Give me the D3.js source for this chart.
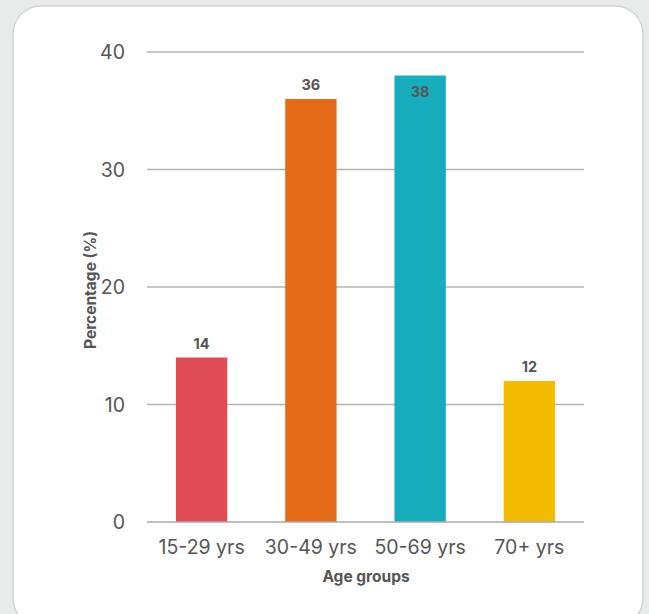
<!DOCTYPE html>
<html><head><meta charset="utf-8">
<script src="https://cdn.jsdelivr.net/npm/d3@7"></script>
<style>
html,body{margin:0;padding:0;background:#e9ebea;}
svg{display:block;font-family:Inter, "Liberation Sans", sans-serif;}
</style></head>
<body>
<svg id="chart" width="649" height="614"></svg>
<script>
const categories = ["15-29 yrs","30-49 yrs","50-69 yrs","70+ yrs"];
const values = [14, 36, 38, 12];
const colors = ["#e04c55","#e46c18","#18adbd","#f5bb00"];
const yTicks = [0,10,20,30,40];

(function(){
const svg = d3.select("#chart");
svg.append("rect").attr("x",13).attr("y",6).attr("width",630).attr("height",620)
  .attr("rx",28).attr("fill","#fff").attr("stroke","#d2d4d3").attr("stroke-width",1.5);

const pL=147, pR=584, pT=52, pB=522;
const x = d3.scaleBand().domain(categories).range([pL,pR]).paddingInner(0.53).paddingOuter(0.265);
const y = d3.scaleLinear().domain([0,40]).range([pB,pT]);

const g = svg.append("g");
g.selectAll(".grid").data(yTicks.filter(d=>d>0)).join("line")
  .attr("x1",pL).attr("x2",pR).attr("y1",d=>y(d)).attr("y2",d=>y(d))
  .attr("stroke","#b4b4b4").attr("stroke-width",1.3);

g.selectAll(".ytl").data(yTicks).join("text")
  .attr("x",125).attr("y",d=>y(d)).attr("dy","0.36em").attr("text-anchor","end")
  .attr("font-size",19.5).attr("fill","#555").text(d=>d);

g.selectAll(".bar").data(values).join("rect")
  .attr("x",(d,i)=>x(categories[i])).attr("width",x.bandwidth())
  .attr("y",d=>y(d)).attr("height",d=>pB-y(d))
  .attr("fill",(d,i)=>colors[i]);

g.append("line").attr("x1",pL).attr("x2",pR).attr("y1",pB).attr("y2",pB)
  .attr("stroke","#aaa").attr("stroke-width",1.5);

g.selectAll(".lbl").data(values).join("text")
  .attr("x",(d,i)=>x(categories[i])+x.bandwidth()/2)
  .attr("y",d=> y(d)-10 < pT+25 ? y(d)+21.5 : y(d)-9)
  .attr("text-anchor","middle").attr("font-size",14.5).attr("font-weight","bold")
  .attr("fill","#555").text(d=>d);

g.selectAll(".xtl").data(categories).join("text")
  .attr("x",d=>x(d)+x.bandwidth()/2).attr("y",554).attr("text-anchor","middle")
  .attr("font-size",19.5).attr("fill","#555").text(d=>d);

g.append("text").attr("x",366).attr("y",582).attr("text-anchor","middle")
  .attr("font-size",15.5).attr("font-weight","bold").attr("fill","#555").text("Age groups");

g.append("text").attr("transform","translate(96,290) rotate(-90)").attr("text-anchor","middle")
  .attr("font-size",15.5).attr("font-weight","bold").attr("fill","#555").text("Percentage (%)");
})();
</script>
</body></html>
